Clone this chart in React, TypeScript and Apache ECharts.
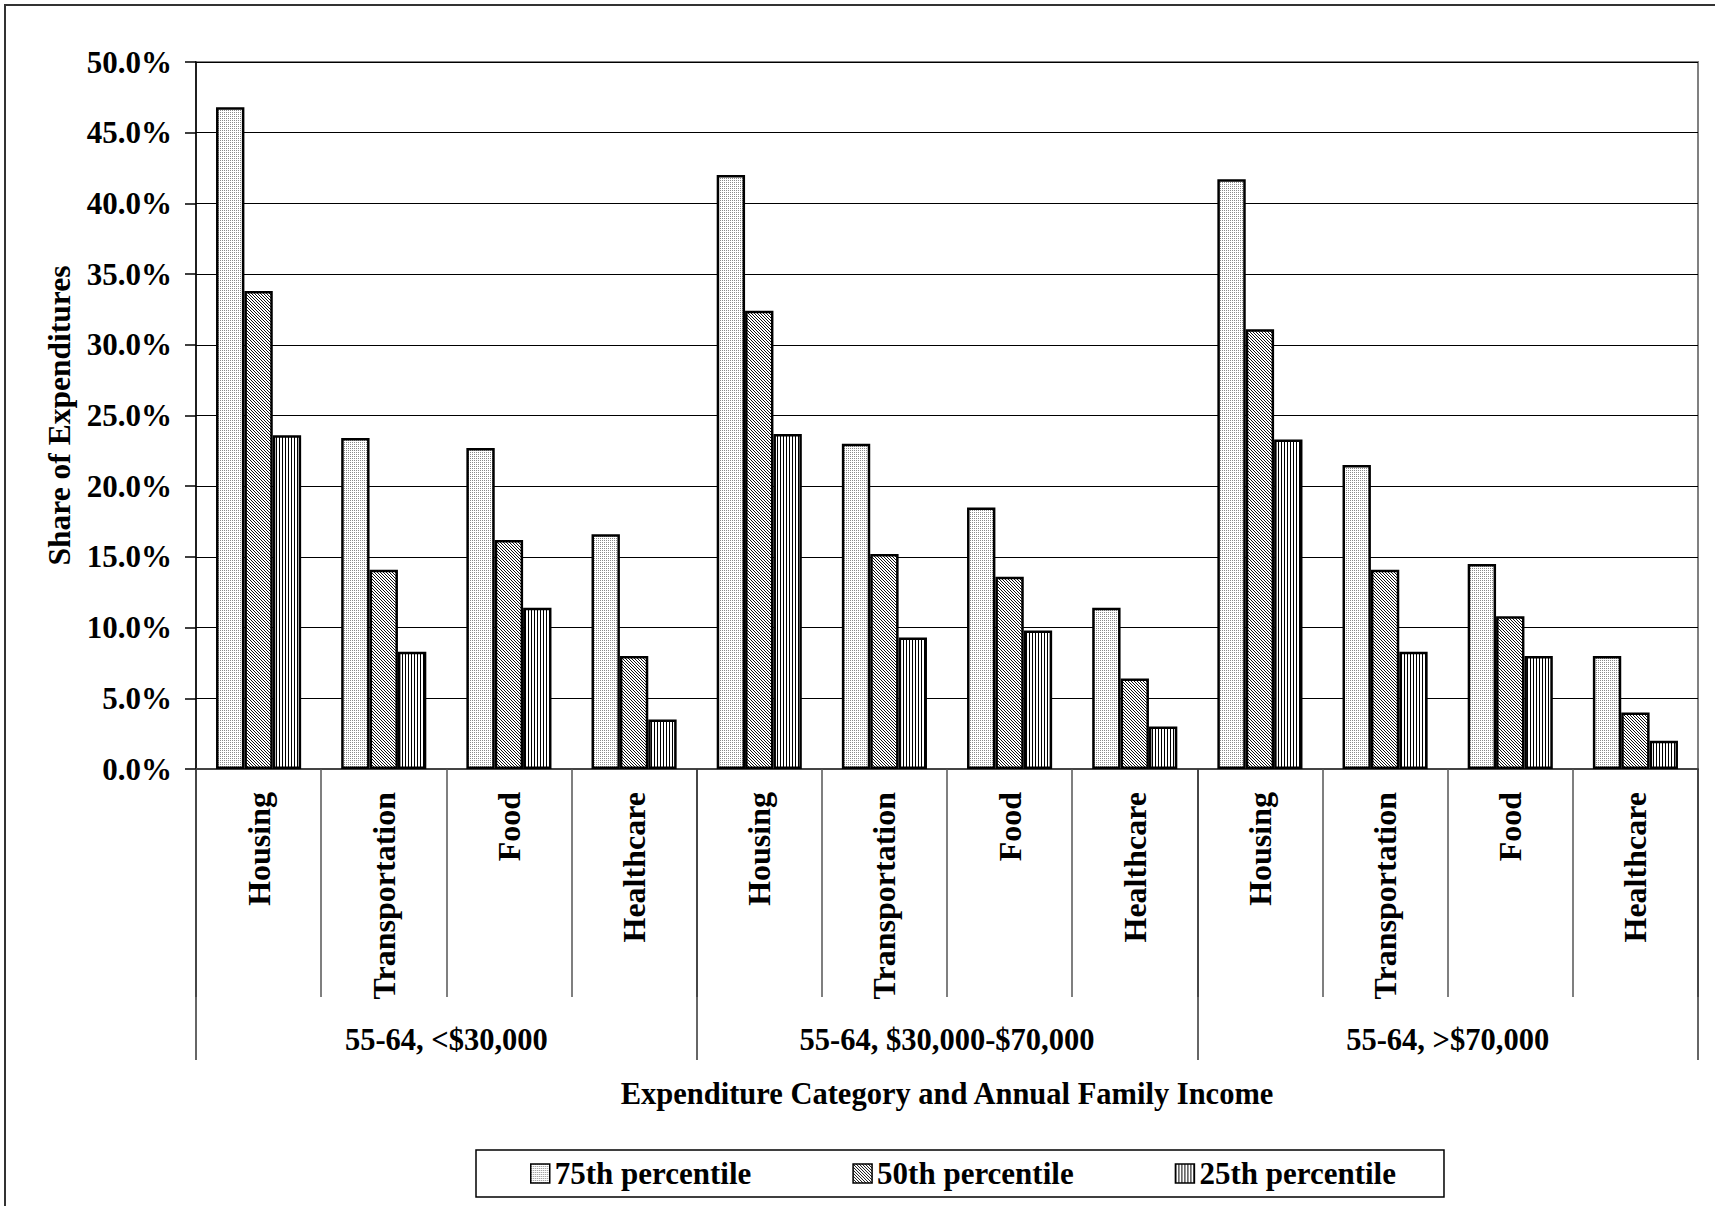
import React, { useEffect, useRef } from "react";
import * as echarts from "echarts";

const categories = [
  "Housing", "Transportation", "Food", "Healthcare",
  "Housing", "Transportation", "Food", "Healthcare",
  "Housing", "Transportation", "Food", "Healthcare",
];
const groups = ["55-64, <$30,000", "55-64, $30,000-$70,000", "55-64, >$70,000"];
const seriesNames = ["75th percentile", "50th percentile", "25th percentile"];
const p75 = [46.8, 23.4, 22.7, 16.6, 42.0, 23.0, 18.5, 11.4, 41.7, 21.5, 14.5, 8.0];
const p50 = [33.8, 14.1, 16.2, 8.0, 32.4, 15.2, 13.6, 6.4, 31.1, 14.1, 10.8, 4.0];
const p25 = [23.6, 8.3, 11.4, 3.5, 23.7, 9.3, 9.8, 3.0, 23.3, 8.3, 8.0, 2.0];
const yTicks = { min: 0, max: 50, interval: 5 };

const FONT = "'Times New Roman', 'Liberation Serif', serif";

function makePattern(w: number, h: number, draw: (ctx: CanvasRenderingContext2D) => void) {
  const c = document.createElement("canvas");
  c.width = w;
  c.height = h;
  const ctx = c.getContext("2d") as CanvasRenderingContext2D;
  ctx.fillStyle = "#ffffff";
  ctx.fillRect(0, 0, w, h);
  draw(ctx);
  return { image: c, repeat: "repeat", imageWidth: w, imageHeight: h } as any;
}

export default function App() {
  const ref = useRef<HTMLDivElement>(null);
  useEffect(() => {
    if (!ref.current) return;
    const chart = echarts.init(ref.current, null, { renderer: "svg" });

    const dots = makePattern(2, 2, (ctx) => {
      ctx.fillStyle = "#8a8a8a";
      ctx.fillRect(0, 0, 1, 1);
    });
    const hatch = makePattern(3, 3, (ctx) => {
      ctx.fillStyle = "#111111";
      ctx.fillRect(0, 0, 1, 1);
      ctx.fillRect(1, 1, 1, 1);
      ctx.fillRect(2, 2, 1, 1);
    });
    const stripes = makePattern(3, 3, (ctx) => {
      ctx.fillStyle = "#000000";
      ctx.fillRect(0, 0, 1, 3);
    });
    const fills = [dots, hatch, stripes];
    const dataSets = [p75, p50, p25];

    const textBase = { fontFamily: FONT, fontWeight: "bold" as const, color: "#000" };

    chart.setOption({
      animation: false,
      backgroundColor: "#ffffff",
      graphic: [
        {
          type: "rect",
          shape: { x: 5, y: 5, width: 1730, height: 1230 },
          style: { fill: "none", stroke: "#333", lineWidth: 2 },
          silent: true,
        },
      ],
      grid: {
        left: 196,
        right: 17,
        top: 62,
        bottom: 437,
        show: true,
        borderColor: "#808080",
        borderWidth: 2,
        backgroundColor: "transparent",
      },
      legend: {
        data: seriesNames,
        left: 476,
        top: 1150,
        padding: [8, 48, 8, 54],
        itemGap: 101,
        itemWidth: 19,
        itemHeight: 19,
        borderColor: "#000",
        borderWidth: 1.5,
        borderRadius: 0,
        icon: "rect",
        itemStyle: { borderColor: "#000", borderWidth: 1.5 },
        textStyle: { ...textBase, fontSize: 31, padding: [0, 0, 0, 0] },
      },
      xAxis: [
        {
          type: "category",
          data: categories,
          position: "bottom",
          axisLine: { show: true, lineStyle: { color: "#444", width: 2 } },
          axisTick: { show: true, length: 228, lineStyle: { color: "#555", width: 1.5 } },
          axisLabel: { ...textBase, fontSize: 32, rotate: 90, interval: 0, margin: 23 },
          splitLine: { show: false },
        },
        {
          type: "category",
          data: groups,
          position: "bottom",
          offset: 0,
          axisLine: { show: false },
          axisTick: { show: true, length: 291, lineStyle: { color: "#333", width: 1.5 } },
          axisLabel: { ...textBase, fontSize: 30.5, interval: 0, margin: 255 },
          name: "Expenditure Category and Annual Family Income",
          nameLocation: "middle",
          nameGap: 309,
          nameTextStyle: { ...textBase, fontSize: 30.5 },
        },
      ],
      yAxis: {
        type: "value",
        min: yTicks.min,
        max: yTicks.max,
        interval: yTicks.interval,
        name: "Share of Expenditures",
        nameLocation: "middle",
        nameRotate: 90,
        nameGap: 121,
        nameTextStyle: { ...textBase, fontSize: 31.5 },
        axisLine: { show: true, lineStyle: { color: "#000", width: 1.5 } },
        axisTick: { show: true, length: 11, lineStyle: { color: "#000", width: 1.5 } },
        axisLabel: {
          ...textBase,
          fontSize: 31,
          margin: 24,
          formatter: (v: number) => v.toFixed(1) + "%",
        },
        splitLine: { show: true, lineStyle: { color: "#000", width: 1 } },
      },
      series: seriesNames.map((name, i) => ({
        name,
        type: "bar",
        xAxisIndex: 0,
        data: dataSets[i],
        barGap: "0%",
        barCategoryGap: "32%",
        itemStyle: { color: fills[i], borderColor: "#000", borderWidth: 2.5 },
      })),
    });
    return () => chart.dispose();
  }, []);
  return (
    <div
      ref={ref}
      style={{ position: "fixed", left: 0, top: 0, width: 1715, height: 1206, background: "#fff" }}
    />
  );
}
